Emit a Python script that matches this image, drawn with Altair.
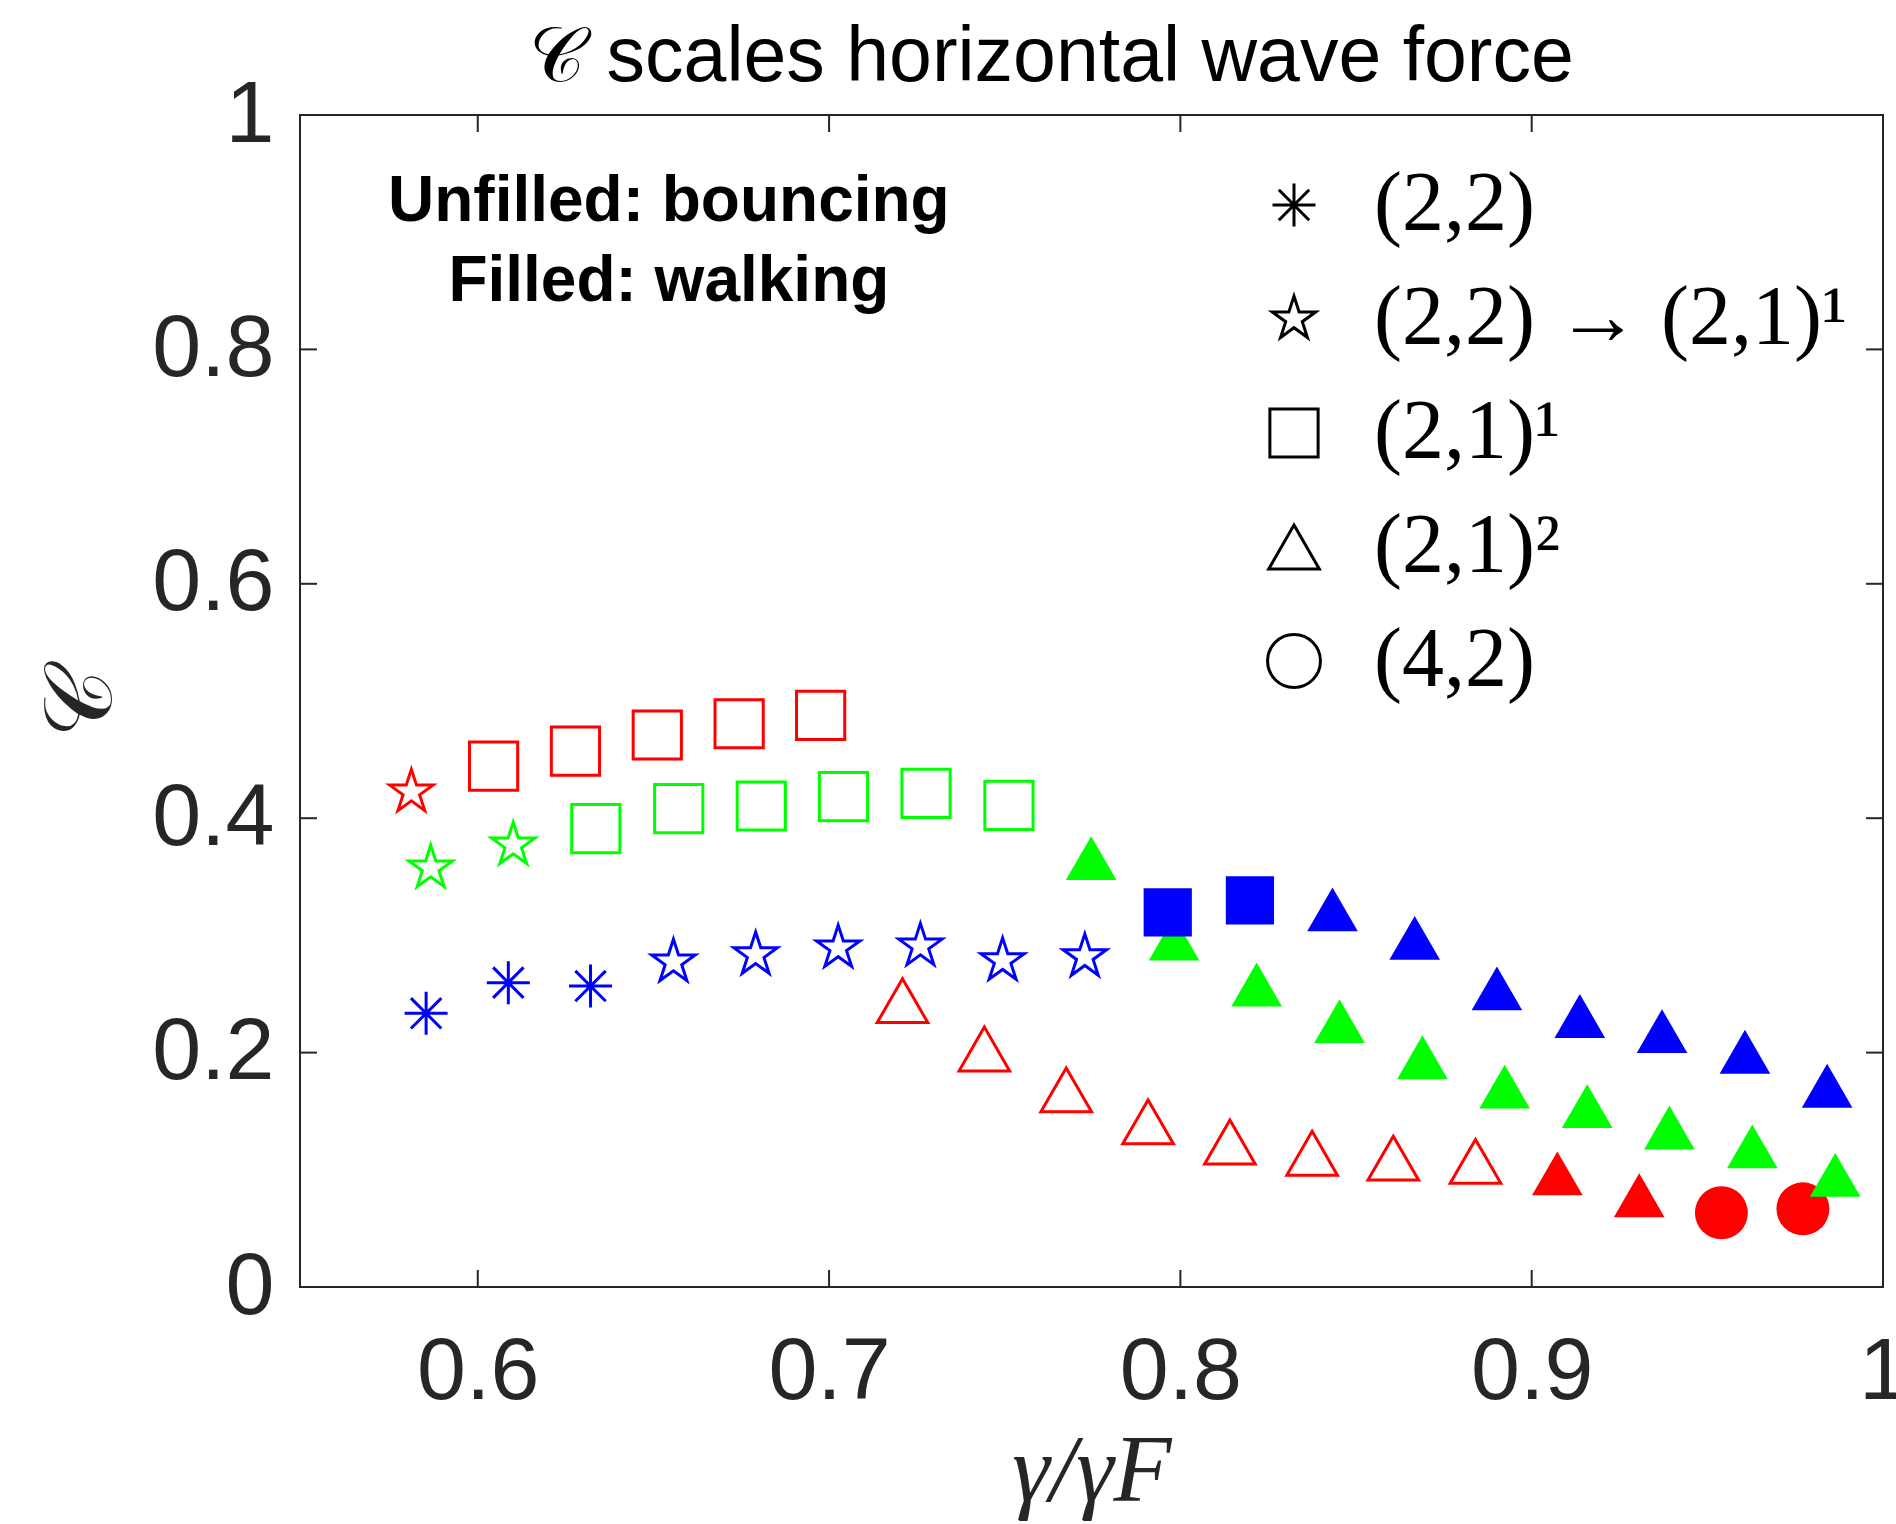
import altair as alt
import pandas as pd

# ---------------- categories / ticks ----------------
MODES = ["(2,2)", "(2,2) → (2,1)¹", "(2,1)¹", "(2,1)²", "(4,2)"]
GROUPS = ["red", "green", "blue"]
GROUP_COLORS = ["#ff0000", "#00ff00", "#0000ff"]
X_TICKS = [0.6, 0.7, 0.8, 0.9, 1.0]
Y_TICKS = [0.0, 0.2, 0.4, 0.6, 0.8, 1.0]

# ---------------- red series ----------------
red_star_x = [0.5811]
red_star_y = [0.4222]
red_sq_x = [0.6045, 0.6278, 0.6511, 0.6744, 0.6976]
red_sq_y = [0.4445, 0.4573, 0.4710, 0.4806, 0.4878]
red_tri_open_x = [0.7209, 0.7442, 0.7675, 0.7908, 0.8141, 0.8375, 0.8606, 0.8840]
red_tri_open_y = [0.2443, 0.2031, 0.1682, 0.1409, 0.1237, 0.1141, 0.1099, 0.1072]
red_tri_fill_x = [0.9073, 0.9306]
red_tri_fill_y = [0.0970, 0.0783]
red_circ_x = [0.9540, 0.9772]
red_circ_y = [0.0633, 0.0667]

# ---------------- green series ----------------
green_star_x = [0.5866, 0.6101]
green_star_y = [0.3575, 0.3771]
green_sq_x = [0.6336, 0.6572, 0.6807, 0.7041, 0.7276, 0.7512]
green_sq_y = [0.3911, 0.4081, 0.4104, 0.4184, 0.4212, 0.4110]
green_tri_x = [0.7746, 0.7982, 0.8217, 0.8453, 0.8689, 0.8923, 0.9158, 0.9392, 0.9628, 0.9864]
green_tri_y = [0.3660, 0.2972, 0.2581, 0.2268, 0.1960, 0.1709, 0.1543, 0.1361, 0.1200, 0.0957]

# ---------------- blue series ----------------
blue_ast_x = [0.5853, 0.6087, 0.6321]
blue_ast_y = [0.2335, 0.2597, 0.2568]
blue_star_x = [0.6557, 0.6791, 0.7026, 0.7260, 0.7494, 0.7728]
blue_star_y = [0.2773, 0.2834, 0.2893, 0.2908, 0.2784, 0.2818]
blue_sq_x = [0.7964, 0.8198]
blue_sq_y = [0.3197, 0.3298]
blue_tri_x = [0.8433, 0.8667, 0.8901, 0.9137, 0.9371, 0.9607, 0.9841]
blue_tri_y = [0.3222, 0.2979, 0.2548, 0.2312, 0.2183, 0.2007, 0.1717]

ANNOT_TEXT = ["Unfilled: bouncing", "Filled: walking"]

series = [
    ("red", MODES[1], False, red_star_x, red_star_y),
    ("red", MODES[2], False, red_sq_x, red_sq_y),
    ("red", MODES[3], False, red_tri_open_x, red_tri_open_y),
    ("red", MODES[3], True, red_tri_fill_x, red_tri_fill_y),
    ("red", MODES[4], True, red_circ_x, red_circ_y),
    ("green", MODES[1], False, green_star_x, green_star_y),
    ("green", MODES[2], False, green_sq_x, green_sq_y),
    ("green", MODES[3], True, green_tri_x, green_tri_y),
    ("blue", MODES[0], False, blue_ast_x, blue_ast_y),
    ("blue", MODES[1], False, blue_star_x, blue_star_y),
    ("blue", MODES[2], True, blue_sq_x, blue_sq_y),
    ("blue", MODES[3], True, blue_tri_x, blue_tri_y),
]
rows = []
for g, m, f, xs, ys in series:
    for xv, yv in zip(xs, ys):
        rows.append({"g": g, "mode": m, "filled": f, "x": xv, "y": yv})
df = pd.DataFrame(rows)
df_open = df[~df["filled"]]
df_fill = df[df["filled"]]

W, H = 1583, 1172
TL = 17
AX = "#262626"

ASTER = "M0,-1L0,1M-1,0L1,0M-0.707,-0.707L0.707,0.707M-0.707,0.707L0.707,-0.707"
STAR = ("M0,-1L0.2245,-0.309L0.9511,-0.309L0.3633,0.118L0.5878,0.809L0,0.382"
        "L-0.5878,0.809L-0.3633,0.118L-0.9511,-0.309L-0.2245,-0.309Z")

x_scale = alt.Scale(domain=[0.5494, 1.0], nice=False, zero=False)
y_scale = alt.Scale(domain=[0, 1], nice=False, zero=False)
shape_scale = alt.Scale(domain=MODES, range=[ASTER, STAR, "square", "triangle-up", "circle"])
size_scale = alt.Scale(domain=MODES, range=[1849, 2800, 1500, 3300, 2209])
color_scale = alt.Scale(domain=GROUPS, range=GROUP_COLORS)

x_axis = alt.Axis(values=X_TICKS, format="~g", labelFont="Liberation Sans", labelFontSize=88,
                  labelColor=AX, labelPadding=41, labelFlush=False, labelOverlap=False,
                  ticks=False, domain=False, grid=False,
                  title="γ/γF", titleFont="Liberation Serif", titleFontStyle="italic",
                  titleFontWeight="normal", titleFontSize=95, titleColor=AX,
                  titleY=213, titleBaseline="alphabetic")
y_axis = alt.Axis(values=Y_TICKS, format="~g", labelFont="Liberation Sans", labelFontSize=88,
                  labelColor=AX, labelPadding=26, labelFlush=False, labelOverlap=False,
                  ticks=False, domain=False, grid=False,
                  title="𝒞", titleFont="DejaVu Serif", titleFontWeight="normal",
                  titleFontSize=95, titleColor=AX, titleX=-190, titleY=588, titleAngle=270,
                  titleAlign="center", titleBaseline="alphabetic")

legend = alt.Legend(title=None, orient="none", legendX=952, legendY=48, padding=0,
                    labelFont="Liberation Serif", labelFontSize=84, labelColor="black",
                    labelLimit=1200, labelOffset=38, rowPadding=30, symbolStrokeColor="black",
                    symbolFillColor="transparent", symbolStrokeWidth=3, symbolOpacity=1)


def points(data, filled):
    return alt.Chart(data).mark_point(filled=filled, opacity=1,
                                      strokeWidth=(1 if filled else 3)).encode(
        x=alt.X("x:Q", scale=x_scale, axis=x_axis),
        y=alt.Y("y:Q", scale=y_scale, axis=y_axis),
        color=alt.Color("g:N", scale=color_scale, legend=None),
        shape=alt.Shape("mode:N", scale=shape_scale, legend=legend),
        size=alt.Size("mode:N", scale=size_scale, legend=legend),
    )


xt = alt.Chart(pd.DataFrame({"t": X_TICKS}))
yt = alt.Chart(pd.DataFrame({"t": Y_TICKS}))
rule = dict(color=AX, strokeWidth=2)
bottom_ticks = xt.mark_rule(**rule).encode(x=alt.X("t:Q", scale=x_scale, axis=x_axis),
                                           y=alt.value(H), y2=alt.value(H - TL))
top_ticks = xt.mark_rule(**rule).encode(x=alt.X("t:Q", scale=x_scale, axis=x_axis),
                                        y=alt.value(0), y2=alt.value(TL))
left_ticks = yt.mark_rule(**rule).encode(y=alt.Y("t:Q", scale=y_scale, axis=y_axis),
                                         x=alt.value(0), x2=alt.value(TL))
right_ticks = yt.mark_rule(**rule).encode(y=alt.Y("t:Q", scale=y_scale, axis=y_axis),
                                          x=alt.value(W), x2=alt.value(W - TL))

annot_df = pd.DataFrame({"text": ANNOT_TEXT, "ax": [0.6544, 0.6544], "ay": [0.9098, 0.8416]})
annot = alt.Chart(annot_df).mark_text(font="Liberation Sans", fontWeight="bold", fontSize=64,
                                      align="center", baseline="alphabetic", color="black").encode(
    x=alt.X("ax:Q", scale=x_scale, axis=x_axis),
    y=alt.Y("ay:Q", scale=y_scale, axis=y_axis),
    text="text:N",
)

chart = alt.layer(
    points(df_open, False), points(df_fill, True),
    bottom_ticks, top_ticks, left_ticks, right_ticks, annot,
).properties(
    width=W, height=H,
    title=alt.Title(text="𝒞 scales horizontal wave force", font="Liberation Sans", fontSize=77,
                    fontWeight="normal", color="black", anchor="middle", dx=-40,
                    baseline="alphabetic", offset=-87),
    padding={"left": 300, "top": 115, "right": 13, "bottom": 237},
    autosize=alt.AutoSizeParams(type="none"),
).configure_view(stroke=AX, strokeWidth=2)

chart.save("out.html", embed_options={"renderer": "svg", "actions": False})
